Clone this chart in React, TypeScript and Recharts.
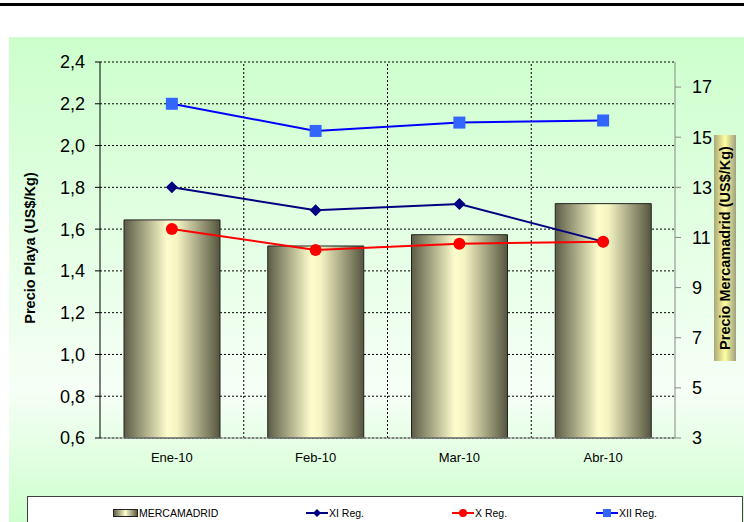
import React from 'react';
import { ComposedChart, Bar, Line, XAxis, YAxis, CartesianGrid, ReferenceLine } from 'recharts';

// values
const months = ['Ene-10', 'Feb-10', 'Mar-10', 'Abr-10'];
const mercamadrid = [11.7, 10.66, 11.11, 12.35];
const xiReg = [1.8, 1.69, 1.72, 1.54];
const xReg = [1.6, 1.5, 1.53, 1.54];
const xiiReg = [2.2, 2.07, 2.11, 2.12];

const leftTicks = [0.6, 0.8, 1.0, 1.2, 1.4, 1.6, 1.8, 2.0, 2.2, 2.4];
const rightTicks = [3, 5, 7, 9, 11, 13, 15, 17];
const boundaries = [1, 2, 3];

const data = months.map((month, i) => ({
  month,
  pos: i + 0.5,
  mercamadrid: mercamadrid[i],
  xi: xiReg[i],
  x: xReg[i],
  xii: xiiReg[i],
}));

const FONT = '"Liberation Sans", Arial, sans-serif';

const DiamondDot = (props: any) => {
  const { cx, cy } = props;
  if (cx == null || cy == null) return <g />;
  return <polygon points={`${cx},${cy - 6} ${cx + 6},${cy} ${cx},${cy + 6} ${cx - 6},${cy}`} fill="#000080" />;
};

const SquareDot = (props: any) => {
  const { cx, cy } = props;
  if (cx == null || cy == null) return <g />;
  return <rect x={cx - 6} y={cy - 6} width={12} height={12} fill="#3366ff" />;
};

const LeftTitle = (props: any) => {
  const { x, y, height } = props.viewBox;
  const cx = x - 10;
  const cy = y + height / 2 - 2;
  return (
    <text x={cx} y={cy} transform={`rotate(-90, ${cx}, ${cy})`} textAnchor="middle" dominantBaseline="central"
      style={{ fontFamily: FONT, fontSize: 14.5, fontWeight: 'bold', fill: '#000' }}>
      Precio Playa (US$/Kg)
    </text>
  );
};

const RightTitle = (props: any) => {
  const { x, y, width, height } = props.viewBox;
  const cx = x + width;
  const cy = y + height / 2 - 2;
  return (
    <g>
      <rect x={cx - 11} y={cy - 113} width={22} height={226} fill="url(#titleGrad)" />
      <text x={cx} y={cy} transform={`rotate(-90, ${cx}, ${cy})`} textAnchor="middle" dominantBaseline="central"
        style={{ fontFamily: FONT, fontSize: 14.5, fontWeight: 'bold', fill: '#000' }}>
        Precio Mercamadrid (US$/Kg)
      </text>
    </g>
  );
};

const legendItems = [
  { name: 'MERCAMADRID', kind: 'bar', color: '', left: 113 },
  { name: 'XI Reg.', kind: 'diamond', color: '#000080', left: 306 },
  { name: 'X Reg.', kind: 'circle', color: '#ff0000', left: 452 },
  { name: 'XII Reg.', kind: 'square', color: '#0000ff', left: 596 },
];

const LegendIcon = ({ kind, color }: { kind: string; color: string }) => {
  if (kind === 'bar') {
    return (
      <svg width={25} height={10}>
        <defs>
          <linearGradient id="legBar" x1="0" y1="0" x2="1" y2="0">
            <stop offset="0" stopColor="#5c5c46" />
            <stop offset="0.5" stopColor="#fdfdcc" />
            <stop offset="1" stopColor="#55553f" />
          </linearGradient>
        </defs>
        <rect x={0.5} y={1.5} width={24} height={7} fill="url(#legBar)" stroke="#222" />
      </svg>
    );
  }
  return (
    <svg width={22} height={10}>
      <line x1={0} y1={5} x2={22} y2={5} stroke={color} strokeWidth={2} />
      {kind === 'diamond' && <polygon points="11,1 15,5 11,9 7,5" fill={color} />}
      {kind === 'circle' && <circle cx={11} cy={5} r={4} fill={color} />}
      {kind === 'square' && <rect x={7} y={1} width={8} height={8} fill="#3366ff" />}
    </svg>
  );
};

export default function App() {
  return (
    <div style={{ position: 'absolute', left: 0, top: 0, width: 744, height: 522, overflow: 'hidden', background: '#fff', fontFamily: FONT }}>
      <div style={{ position: 'absolute', left: 0, top: 3, width: 744, height: 3, background: '#000' }} />
      <div style={{
        position: 'absolute', left: 9, top: 37, width: 740, height: 490,
        background: 'linear-gradient(to bottom, #ccffcc 0%, #f6fff6 72%, #ccffcc 100%)',
      }} />
      <div style={{ position: 'absolute', left: 0, top: 0 }}>
        <ComposedChart width={744} height={522} data={data} margin={{ top: 62, right: 19, bottom: 54, left: 40 }}>
          <defs>
            <linearGradient id="barGrad" x1="0" y1="0" x2="1" y2="0">
              <stop offset="0" stopColor="#5c5c46" />
              <stop offset="0.45" stopColor="#fdfdcc" />
              <stop offset="0.55" stopColor="#f5f5c4" />
              <stop offset="1" stopColor="#55553f" />
            </linearGradient>
            <linearGradient id="titleGrad" x1="0" y1="0" x2="1" y2="0">
              <stop offset="0" stopColor="#a8a878" />
              <stop offset="0.5" stopColor="#ffffa0" />
              <stop offset="1" stopColor="#a0a080" />
            </linearGradient>
          </defs>
          <CartesianGrid yAxisId="left" vertical={false} stroke="#000" strokeDasharray="2 2" />
          <XAxis dataKey="month" axisLine={{ stroke: '#888' }} tickLine={false} tickSize={0} tickMargin={15} height={30}
            tick={{ fontSize: 13, fill: '#000', fontFamily: FONT }} interval={0} />
          <XAxis xAxisId="num" dataKey="pos" type="number" domain={[0, 4]} allowDataOverflow hide />
          <YAxis yAxisId="left" domain={[0.6, 2.4]} ticks={leftTicks} width={60} axisLine={{ stroke: '#000' }}
            tickLine={{ stroke: '#000' }} tickSize={5} tickMargin={10} interval={0}
            tickFormatter={(v: number) => v.toFixed(1).replace('.', ',')}
            tick={{ fontSize: 18, fill: '#000', fontFamily: FONT }} label={<LeftTitle />} />
          <YAxis yAxisId="right" orientation="right" domain={[3, 18]} ticks={rightTicks} width={50}
            axisLine={{ stroke: '#888' }} tickLine={{ stroke: '#888' }} tickSize={6} tickMargin={11} interval={0}
            tick={{ fontSize: 18, fill: '#000', fontFamily: FONT }} label={<RightTitle />} />
          {boundaries.map((b) => (
            <ReferenceLine key={b} xAxisId="num" yAxisId="left" x={b} stroke="#000" strokeDasharray="2 2" />
          ))}
          <Bar yAxisId="right" dataKey="mercamadrid" name="MERCAMADRID" barSize={96} fill="url(#barGrad)"
            stroke="#222" strokeWidth={1} isAnimationActive={false} />
          <Line yAxisId="left" dataKey="xi" name="XI Reg." stroke="#000080" strokeWidth={2} dot={<DiamondDot />}
            isAnimationActive={false} />
          <Line yAxisId="left" dataKey="x" name="X Reg." stroke="#ff0000" strokeWidth={2}
            dot={{ r: 6, fill: '#ff0000', stroke: '#ff0000', strokeWidth: 0 }} isAnimationActive={false} />
          <Line yAxisId="left" dataKey="xii" name="XII Reg." stroke="#0000ff" strokeWidth={2} dot={<SquareDot />}
            isAnimationActive={false} />
        </ComposedChart>
      </div>
      <div style={{ position: 'absolute', left: 27, top: 496, width: 714, height: 40, background: '#fff', border: '1px solid #404040' }}>
        {legendItems.map((it) => (
          <div key={it.name} style={{ position: 'absolute', left: it.left - 28, top: 10, display: 'flex', alignItems: 'center', fontSize: 10.5, color: '#000' }}>
            <LegendIcon kind={it.kind} color={it.color} />
            <span style={{ marginLeft: 1 }}>{it.name}</span>
          </div>
        ))}
      </div>
    </div>
  );
}
